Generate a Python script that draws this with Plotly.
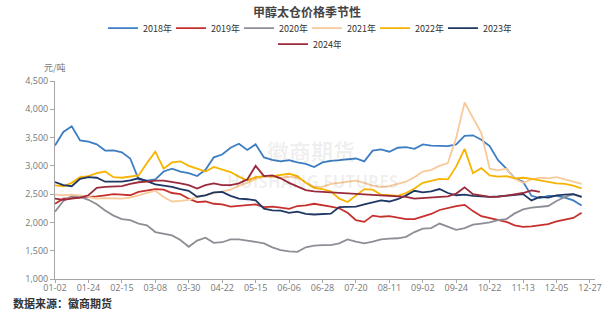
import plotly.graph_objects as go

# Trading-day positions: one reading every 4 trading days
STEP = 4

tick_labels = ["01-02", "01-24", "02-15", "03-08", "03-30", "04-22", "05-15", "06-06",
               "06-28", "07-20", "08-11", "09-02", "09-24", "10-22", "11-13", "12-05", "12-27"]

price_2018 = [3358, 3600, 3700, 3450, 3430, 3380, 3270, 3275, 3240, 3130, 2760, 2740, 2760,
              2900, 2950, 2900, 2870, 2820, 2930, 3150, 3200, 3320, 3390, 3280, 3380, 3150,
              3106, 3080, 3100, 3060, 3036, 2980, 3060, 3090, 3100, 3110, 3130, 3080, 3270,
              3290, 3250, 3320, 3330, 3300, 3380, 3358, 3360, 3350, 3380, 3530, 3540, 3460,
              3350, 3100, 2950, 2780, 2720, 2470, 2430, 2470, 2470, 2440, 2390, 2300]

price_2019 = [2330, 2420, 2430, 2440, 2440, 2460, 2480, 2500, 2490, 2480, 2540, 2560, 2590,
              2580, 2520, 2500, 2420, 2360, 2370, 2330, 2320, 2280, 2290, 2310, 2320, 2270,
              2280, 2260, 2240, 2290, 2300, 2330, 2310, 2280, 2250, 2170, 2040, 2010, 2120,
              2100, 2110, 2090, 2060, 2060, 2110, 2150, 2220, 2260, 2290, 2310, 2200, 2110,
              2080, 2040, 2010, 1950, 1920, 1930, 1950, 1970, 2020, 2050, 2080, 2170]

price_2020 = [2190, 2380, 2470, 2450, 2400, 2320, 2210, 2120, 2060, 2040, 1980, 1950, 1830,
              1800, 1770, 1690, 1570, 1680, 1730, 1640, 1650, 1700, 1700, 1680, 1660, 1630,
              1560, 1510, 1490, 1480, 1560, 1590, 1600, 1600, 1630, 1700, 1660, 1630, 1660,
              1700, 1715, 1720, 1745, 1830, 1890, 1900, 1980, 1920, 1870, 1900, 1960, 1980,
              2000, 2040, 2060, 2160, 2230, 2260, 2270, 2290, 2380, 2450, 2500, 2450]

price_2021 = [2490, 2480, 2490, 2480, 2450, 2420, 2430, 2420, 2420, 2440, 2480, 2530, 2560,
              2450, 2370, 2380, 2400, 2450, 2480, 2520, 2550, 2580, 2650, 2700, 2770, 2810,
              2800, 2790, 2810, 2790, 2710, 2630, 2630, 2680, 2700, 2720, 2740, 2700, 2650,
              2630, 2640, 2680, 2720, 2800, 2900, 2930, 3000, 3050, 3500, 4120, 3860, 3580,
              2950, 2920, 2950, 2770, 2700, 2760, 2790, 2780, 2800, 2760, 2710, 2680]

price_2022 = [2654, 2640, 2700, 2800, 2820, 2870, 2900, 2800, 2790, 2810, 2830, 3050, 3250,
              2950, 3060, 3080, 3000, 2950, 2900, 2980, 2930, 2890, 2810, 2742, 2800, 2820,
              2820, 2840, 2860, 2820, 2700, 2610, 2590, 2550, 2420, 2360, 2480, 2590, 2580,
              2490, 2480, 2470, 2520, 2600, 2700, 2740, 2770, 2760, 2990, 3300, 2870, 2960,
              2830, 2810, 2820, 2780, 2790, 2770, 2740, 2710, 2690, 2680, 2650, 2600]

price_2023 = [2713, 2660, 2640, 2770, 2800, 2790, 2720, 2715, 2720, 2745, 2780, 2730, 2672,
              2650, 2630, 2590, 2560, 2455, 2480, 2530, 2540, 2470, 2420, 2410, 2390, 2244,
              2214, 2210, 2170, 2190, 2150, 2140, 2150, 2156, 2272, 2270, 2280, 2320, 2350,
              2390, 2370, 2410, 2478, 2560, 2530, 2550, 2590, 2520, 2480, 2490, 2470, 2460,
              2450, 2460, 2470, 2480, 2500, 2390, 2450, 2440, 2480, 2490, 2500, 2450]

price_2024 = [2420, 2400, 2420, 2440, 2480, 2610, 2630, 2630, 2640, 2680, 2710, 2720, 2740,
              2740, 2720, 2690, 2660, 2600, 2660, 2690, 2660, 2660, 2690, 2760, 3000, 2820,
              2830, 2780, 2700, 2630, 2570, 2550, 2540, 2530, 2520, 2510, 2500, 2500, 2480,
              2480, 2470, 2450, 2450, 2420, 2430, 2440, 2450, 2460, 2510, 2620, 2500, 2470,
              2450, 2450, 2470, 2490, 2520, 2565, 2540]

series = [
    ("2018年", price_2018, "#3D7EC3", "legend"),
    ("2019年", price_2019, "#C6302C", "legend"),
    ("2020年", price_2020, "#8E8E96", "legend"),
    ("2021年", price_2021, "#F8CA9A", "legend"),
    ("2022年", price_2022, "#F6B400", "legend"),
    ("2023年", price_2023, "#1F3763", "legend"),
    ("2024年", price_2024, "#9B2A3C", "legend2"),
]

fig = go.Figure()
for name, vals, color, lg in series:
    fig.add_trace(go.Scatter(
        x=[i * STEP for i in range(len(vals))], y=vals, name=name, mode="lines",
        line=dict(color=color, width=1.8), legend=lg,
    ))

axis_font = dict(family="Open Sans, Noto Sans, sans-serif", size=9, color="#777777")
cjk = "Noto Sans CJK SC"
legend_common = dict(orientation="h", xref="container", yref="container", x=0.5,
                     xanchor="center", yanchor="middle", bgcolor="rgba(0,0,0,0)",
                     font=dict(family=cjk, size=9, color="#333333"), itemwidth=30,
                     entrywidth=23, entrywidthmode="pixels")

fig.update_layout(
    width=614, height=332,
    margin=dict(l=55, r=12, t=81, b=53),
    paper_bgcolor="white", plot_bgcolor="white",
    title=dict(text="<b>甲醇太仓价格季节性</b>", x=0.5, xanchor="center", y=0.96,
               yanchor="middle", font=dict(family=cjk, size=12, color="#444444")),
    legend=dict(y=0.915, **legend_common),
    legend2=dict(y=0.867, **legend_common),
    xaxis=dict(range=[0, 258.4], tickvals=[i * 16 for i in range(len(tick_labels))],
               ticktext=tick_labels, showgrid=False, zeroline=False, showline=True,
               linecolor="#A6A6A6", linewidth=1, ticks="outside", ticklen=3,
               tickcolor="#A6A6A6", tickfont=axis_font, ticklabelstandoff=-3),
    yaxis=dict(range=[1000, 4500], dtick=500, tickformat=",d", showgrid=False,
               zeroline=False, showline=True, linecolor="#A6A6A6", linewidth=1,
               ticks="outside", ticklen=4, tickcolor="#A6A6A6", tickfont=axis_font),
    annotations=[
        dict(text="元/吨", xref="paper", yref="paper", x=0.0, y=1.066, xanchor="center",
             yanchor="middle", showarrow=False, font=dict(family=cjk, size=9, color="#777777")),
        dict(text="<b>数据来源：徽商期货</b>", xref="paper", yref="paper", x=-0.082, y=-0.12,
             xanchor="left", yanchor="middle", showarrow=False,
             font=dict(family=cjk, size=11, color="#333333")),
        dict(text="<b>徽商期货</b>", xref="paper", yref="paper", x=0.474, y=0.652,
             xanchor="center", yanchor="middle", showarrow=False,
             font=dict(family=cjk, size=22, color="rgba(0,0,0,0.07)")),
        dict(text="<b>HUISHANG FUTURES</b>", xref="paper", yref="paper", x=0.476, y=0.49,
             xanchor="center", yanchor="middle", showarrow=False,
             font=dict(family="Open Sans, sans-serif", size=17, color="rgba(0,0,0,0.07)")),
    ],
)

fig.write_html("out.html")
